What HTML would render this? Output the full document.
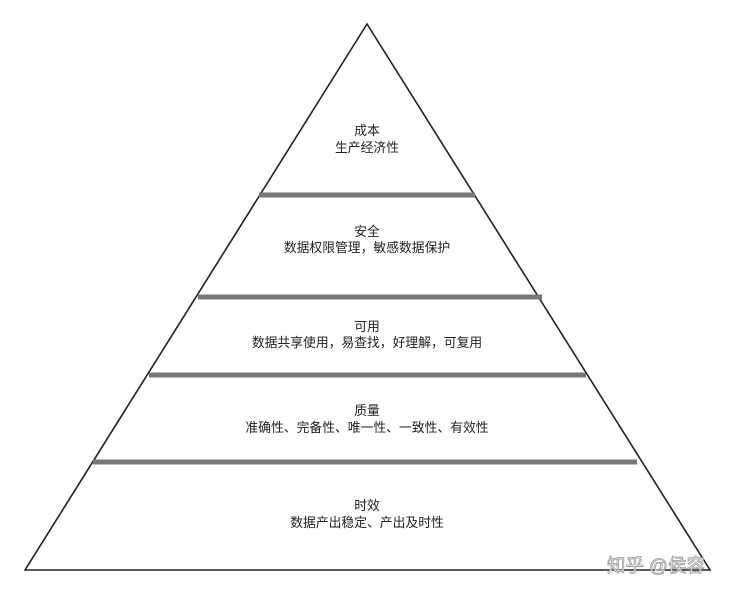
<!DOCTYPE html>
<html><head><meta charset="utf-8"><style>
html,body{margin:0;padding:0;background:#fff;}
svg text{font-family:"Liberation Sans","Noto Sans CJK SC",sans-serif;font-size:12.8px;fill:#222;text-anchor:middle;}
</style></head><body>
<svg width="735" height="595" viewBox="0 0 735 595" xmlns="http://www.w3.org/2000/svg">
<rect width="735" height="595" fill="#fff"/>
<polygon points="367,24 25,570 710,570" fill="none" stroke="#222" stroke-width="1.6"/>
<g stroke="#777" stroke-width="5">
<line x1="259" y1="195" x2="475" y2="195"/>
<line x1="198" y1="297" x2="542" y2="297"/>
<line x1="149" y1="375" x2="586" y2="375"/>
<line x1="93" y1="462" x2="637" y2="462"/>
</g>
<text x="367" y="135">成本</text>
<text x="367" y="152">生产经济性</text>
<text x="367" y="236">安全</text>
<text x="367" y="252">数据权限管理，敏感数据保护</text>
<text x="367" y="331">可用</text>
<text x="367" y="347">数据共享使用，易查找，好理解，可复用</text>
<text x="367" y="415">质量</text>
<text x="367" y="432">准确性、完备性、唯一性、一致性、有效性</text>
<text x="367" y="510">时效</text>
<text x="367" y="527">数据产出稳定、产出及时性</text>
<text x="656" y="572" style="font-size:18.5px;fill:#fff;stroke:#999;stroke-width:0.8">知乎 @侯容</text>
</svg>
</body></html>
